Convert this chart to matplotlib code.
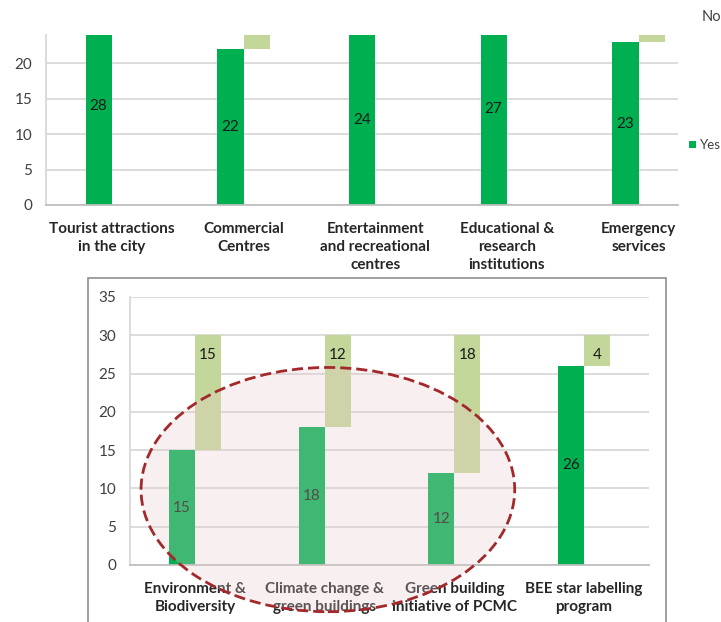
import numpy as np
import matplotlib

matplotlib.use('Agg')
import matplotlib.pyplot as plt
from matplotlib.patches import Ellipse, Rectangle

# Calibri-like look
plt.rcParams['font.family'] = ['Lato', 'DejaVu Sans']

# 上图数据（截取部分，y 轴上限 24）
top_categories = ['Tourist attractions\nin the city', 'Commercial\nCentres',
                  'Entertainment\nand recreational\ncentres',
                  'Educational &\nresearch\ninstitutions', 'Emergency\nservices']
top_yes = [28, 22, 24, 27, 23]
top_no = [2, 8, 6, 3, 7]

# 下图数据
bottom_categories = ['Environment &\nBiodiversity', 'Climate change &\ngreen buildings',
                     'Green building\ninitiative of PCMC', 'BEE star labelling\nprogram']
bottom_yes = [15, 18, 12, 26]
bottom_no = [15, 12, 18, 4]

YES_COLOR = '#00B050'
NO_COLOR = '#C4D79B'
GRID = '#D9D9D9'
TXT = '#262626'
W = 0.2

fig = plt.figure(figsize=(7.21, 6.22), dpi=100)
ax1 = fig.add_axes([46 / 721, 1 - 205 / 622, 632 / 721, 170 / 622])
ax2 = fig.add_axes([130 / 721, 1 - 565 / 622, 519 / 721, 268 / 622])


def style_axes(ax, labels):
    ax.set_xticklabels(labels, fontsize=11, fontweight='bold', color=TXT,
                       linespacing=1.4)
    ax.set_axisbelow(True)
    ax.yaxis.grid(True, color=GRID, linewidth=1.3)
    for s in ['top', 'right']:
        ax.spines[s].set_visible(False)
    ax.spines['left'].set_color(GRID)
    ax.spines['left'].set_linewidth(1.3)
    ax.spines['bottom'].set_color('#BFBFBF')
    ax.spines['bottom'].set_linewidth(1.3)
    ax.tick_params(axis='y', length=0, pad=10, labelsize=11, labelcolor='#404040')
    ax.tick_params(axis='x', length=0, pad=12)


# ---- 上图 ----
x1 = np.arange(len(top_categories))
yes1 = ax1.bar(x1 - W / 2, top_yes, W, color=YES_COLOR, linewidth=0)
ax1.bar(x1 + W / 2, top_no, W, bottom=top_yes, color=NO_COLOR, linewidth=0)
# 数值标签放在整根柱子的中点（柱子被截断）
for xi, v in zip(x1 - W / 2, top_yes):
    ax1.text(xi, v / 2, str(v), ha='center', va='center', fontsize=11,
             color='#1a1a1a', clip_on=True)
ax1.set_ylim(0, 24)
ax1.set_xlim(-0.5, 4.3)
ax1.set_yticks([0, 5, 10, 15, 20])
ax1.set_xticks(x1)
style_axes(ax1, top_categories)

ax1.legend([yes1], ['Yes'], loc='center left', bbox_to_anchor=(689 / 721, 1 - 145 / 622),
           bbox_transform=fig.transFigure, frameon=False, fontsize=9.5,
           handlelength=0.5, handleheight=0.5, handletextpad=0.3, borderpad=0,
           borderaxespad=0, labelcolor='#404040')
fig.text(702 / 721, 1 - 17 / 622, 'No', fontsize=10.5, va='center', color='#404040')

# ---- 下图 ----
x2 = np.arange(len(bottom_categories))
yes2 = ax2.bar(x2 - W / 2, bottom_yes, W, color=YES_COLOR, linewidth=0)
no2 = ax2.bar(x2 + W / 2, bottom_no, W, bottom=bottom_yes, color=NO_COLOR, linewidth=0)
ax2.bar_label(yes2, label_type='center', fontsize=11, color='#1a1a1a')
ax2.bar_label(no2, labels=[str(v) for v in bottom_no], label_type='edge', padding=-19,
              fontsize=11, color='#1a1a1a')
ax2.set_ylim(0, 35)
ax2.set_xlim(-0.5, 3.5)
ax2.set_yticks(np.arange(0, 36, 5))
ax2.set_xticks(x2)
style_axes(ax2, bottom_categories)

# 虚线椭圆标注
ell = Ellipse((1.025, 9.85), 2.88, 31.9, facecolor=(0.91, 0.80, 0.80, 0.28),
              edgecolor='#A3282B', linewidth=2, linestyle=(0, (4, 1.8)),
              clip_on=False, zorder=10)
ax2.add_patch(ell)

# 下图外框
fig.add_artist(Rectangle((88 / 721, -0.05), (666 - 88) / 721, 1 - 278 / 622 + 0.05,
                         transform=fig.transFigure, fill=False,
                         edgecolor='#8F8F8F', linewidth=1.2))

fig.savefig('out.png', dpi=100)
plt.close()
